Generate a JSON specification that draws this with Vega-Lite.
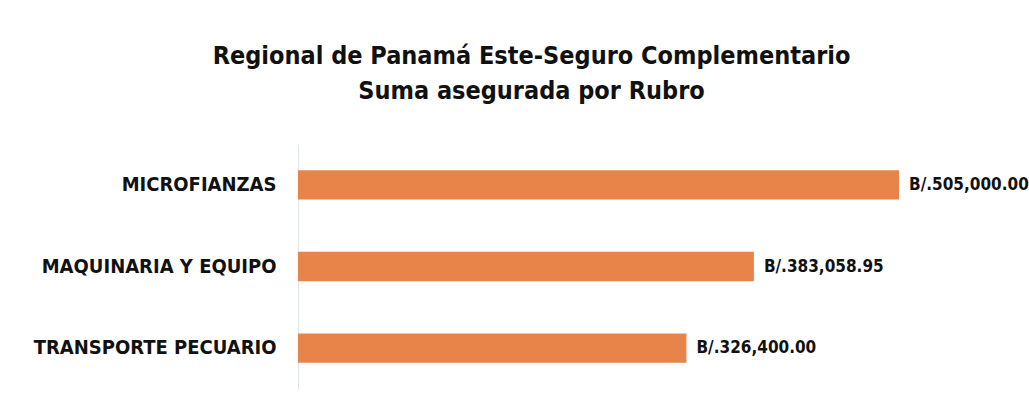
{
  "$schema": "https://vega.github.io/schema/vega-lite/v6.json",
  "autosize": {"type": "none"},
  "width": 601,
  "height": 245,
  "padding": {"left": 298, "top": 144, "right": 130, "bottom": 21},
  "background": "white",
  "title": {
    "text": ["Regional de Panamá Este-Seguro Complementario", "Suma asegurada por Rubro"],
    "font": "DejaVu Sans Condensed, sans-serif",
    "fontSize": 25,
    "fontWeight": "bold",
    "color": "#111111",
    "anchor": "middle",
    "dx": -67,
    "offset": 40,
    "lineHeight": 35
  },
  "data": {
    "values": [
      {"rubro": "MICROFIANZAS", "suma": 505000.00, "label": "B/.505,000.00"},
      {"rubro": "MAQUINARIA Y EQUIPO", "suma": 383058.95, "label": "B/.383,058.95"},
      {"rubro": "TRANSPORTE PECUARIO", "suma": 326400.00, "label": "B/.326,400.00"}
    ]
  },
  "encoding": {
    "y": {
      "field": "rubro",
      "type": "nominal",
      "sort": {"field": "suma", "order": "descending"},
      "scale": {"paddingInner": 0.64, "paddingOuter": 0.32},
      "axis": {
        "title": null,
        "ticks": false,
        "domainColor": "#dde3ea",
        "domainWidth": 1,
        "labelPadding": 22,
        "labelFont": "DejaVu Sans Condensed, sans-serif",
        "labelFontSize": 20,
        "labelFontWeight": "bold",
        "labelColor": "#111111",
        "labelLimit": 400
      }
    },
    "x": {
      "field": "suma",
      "type": "quantitative",
      "scale": {"domain": [0, 505000], "nice": false},
      "axis": null
    }
  },
  "layer": [
    {"mark": {"type": "bar", "color": "#E8834A"}},
    {
      "mark": {
        "type": "text",
        "align": "left",
        "baseline": "middle",
        "dx": 10,
        "font": "DejaVu Sans Condensed, sans-serif",
        "fontSize": 17,
        "fontWeight": "bold",
        "color": "#111111"
      },
      "encoding": {"text": {"field": "label", "type": "nominal"}}
    }
  ],
  "config": {"view": {"stroke": null}}
}
